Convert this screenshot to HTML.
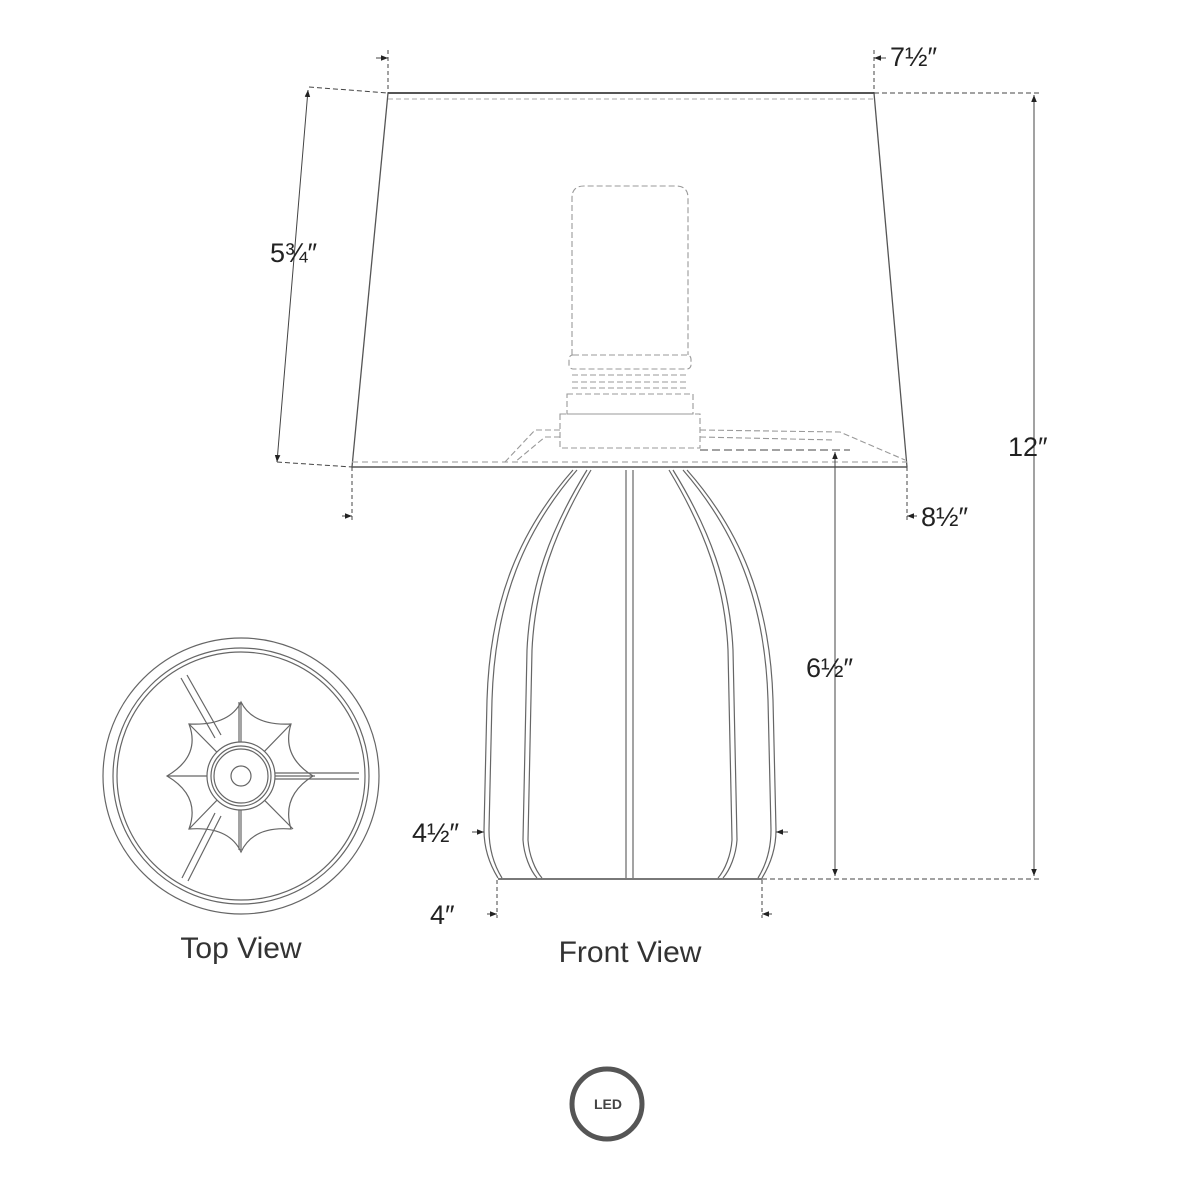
<!DOCTYPE html>
<html><head><meta charset="utf-8"><style>
html,body{margin:0;padding:0;background:#fff;}
svg{display:block;}
text{font-family:"Liberation Sans",sans-serif;fill:#222;}
</style></head><body>
<svg width="1200" height="1200" viewBox="0 0 1200 1200" xmlns="http://www.w3.org/2000/svg">
<defs>
<marker id="ah" viewBox="0 0 10 10" refX="10" refY="5" markerWidth="7" markerHeight="7" orient="auto-start-reverse"><path d="M0,1 L10,5 L0,9 z" fill="#222"/></marker>
</defs>
<g fill="none" stroke="#555" stroke-width="1.3">
<line x1="388" y1="93" x2="874" y2="93" stroke-width="2"/>
<line x1="388" y1="99" x2="874" y2="99" stroke="#bbb" stroke-dasharray="5,3"/>
<line x1="388" y1="93" x2="352" y2="467"/>
<line x1="874" y1="93" x2="907" y2="467"/>
<line x1="352" y1="467" x2="907" y2="467" stroke-width="1.6"/>
<line x1="352" y1="462" x2="907" y2="462" stroke="#aaa" stroke-dasharray="6,4"/>
<g stroke="#999" stroke-dasharray="6,3" stroke-width="1.1">
<path d="M572,355 L572,198 Q572,186 584,186 L676,186 Q688,186 688,198 L688,355"/>
<rect x="569" y="355" width="122" height="14" rx="4"/>
<line x1="572" y1="375" x2="688" y2="375"/>
<line x1="572" y1="382" x2="688" y2="382"/>
<line x1="572" y1="388" x2="688" y2="388"/>
<rect x="567" y="394" width="126" height="20"/>
<rect x="560" y="414" width="140" height="34"/>
<path d="M560,430 L535,430 L505,462"/>
<path d="M560,437 L545,437 L515,462"/>
<path d="M700,430 L840,432 L905,460"/>
<path d="M700,437 L835,440"/>
<path d="M700,450 L850,450" stroke="#444" stroke-dasharray="8,4"/>
</g>
<g stroke="#666" stroke-width="1.2">
<path d="M573,470 C520,530 490,600 487,700 L484,830 C484,850 490,865 498,878"/>
<path d="M577,470 C525,530 495,600 492,700 L489,830 C489,850 494,865 502,878"/>
<path d="M587,470 C550,530 530,585 527,650 L523,840 C524,855 530,870 537,878"/>
<path d="M591,470 C555,530 535,585 532,650 L528,840 C529,855 535,870 542,878"/>
<line x1="626" y1="470" x2="626" y2="878"/>
<line x1="633" y1="470" x2="633" y2="878"/>
<path d="M687,470 C740,530 770,600 773,700 L776,830 C776,850 770,865 762,878"/>
<path d="M683,470 C735,530 765,600 768,700 L771,830 C771,850 766,865 758,878"/>
<path d="M673,470 C710,530 730,585 733,650 L737,840 C736,855 730,870 723,878"/>
<path d="M669,470 C705,530 725,585 728,650 L732,840 C731,855 725,870 718,878"/>
<line x1="498" y1="879" x2="762" y2="879" stroke-width="1.8"/>
</g>
<g stroke="#444" stroke-width="1">
<line x1="309" y1="87" x2="388" y2="93" stroke-dasharray="5,3"/>
<line x1="308" y1="90" x2="277" y2="462" marker-start="url(#ah)" marker-end="url(#ah)"/>
<line x1="277" y1="462" x2="352" y2="467" stroke-dasharray="5,3"/>
<line x1="388" y1="50" x2="388" y2="93" stroke-dasharray="4,3"/>
<line x1="874" y1="50" x2="874" y2="93" stroke-dasharray="4,3"/>
<line x1="376" y1="58" x2="388" y2="58" marker-end="url(#ah)"/>
<line x1="886" y1="58" x2="874" y2="58" marker-end="url(#ah)"/>
<line x1="874" y1="93" x2="1040" y2="93" stroke-dasharray="5,3"/>
<line x1="1034" y1="95" x2="1034" y2="876" marker-start="url(#ah)" marker-end="url(#ah)"/>
<line x1="762" y1="879" x2="1040" y2="879" stroke-dasharray="5,3"/>
<line x1="352" y1="467" x2="352" y2="522" stroke-dasharray="4,3"/>
<line x1="907" y1="467" x2="907" y2="522" stroke-dasharray="4,3"/>
<line x1="342" y1="516" x2="352" y2="516" marker-end="url(#ah)"/>
<line x1="917" y1="516" x2="907" y2="516" marker-end="url(#ah)"/>
<line x1="835" y1="452" x2="835" y2="876" marker-start="url(#ah)" marker-end="url(#ah)"/>
<line x1="472" y1="832" x2="484" y2="832" marker-end="url(#ah)"/>
<line x1="788" y1="832" x2="776" y2="832" marker-end="url(#ah)"/>
<line x1="497" y1="880" x2="497" y2="918" stroke-dasharray="4,3"/>
<line x1="762" y1="880" x2="762" y2="918" stroke-dasharray="4,3"/>
<line x1="487" y1="914" x2="497" y2="914" marker-end="url(#ah)"/>
<line x1="772" y1="914" x2="762" y2="914" marker-end="url(#ah)"/>
</g>
<g stroke="#666" stroke-width="1.2" transform="translate(241,776)">
<circle r="138"/>
<circle r="128"/>
<circle r="124"/>
<path d="M-60,-98 L-26,-38 M-54,-101 L-20,-41"/>
<path d="M-59,102 L-26,37 M-53,105 L-20,40"/>
<path d="M34,-3 L118,-3 M34,3 L118,3"/>
<path d="M0,-74 Q12,-50 50,-52 Q40,-20 72,0 Q40,20 50,53 Q12,50 0,76 Q-12,50 -52,53 Q-40,20 -74,0 Q-40,-20 -52,-52 Q-12,-50 0,-74 Z"/>
<path d="M0,-74 L0,74 M-2,-74 L-2,74 M-74,0 L74,0 M-52,-52 L52,53 M50,-52 L-52,53"/>
<circle r="34" fill="#fff"/>
<circle r="30" fill="#fff"/>
<circle r="27"/>
<circle r="10"/>
</g>
<circle cx="607" cy="1104" r="35" stroke="#555" stroke-width="5"/>
</g>
<text x="608" y="1109" font-size="14" font-weight="bold" text-anchor="middle" style="fill:#444">LED</text>
<g font-size="27">
<text x="270" y="262">5¾″</text>
<text x="890" y="66">7½″</text>
<text x="1008" y="456">12″</text>
<text x="921" y="526">8½″</text>
<text x="806" y="677">6½″</text>
<text x="412" y="842">4½″</text>
<text x="430" y="924">4″</text>
<text x="241" y="958" text-anchor="middle" font-size="30" style="fill:#333">Top View</text>
<text x="630" y="962" text-anchor="middle" font-size="30" style="fill:#333">Front View</text>
</g>
</svg>
</body></html>
